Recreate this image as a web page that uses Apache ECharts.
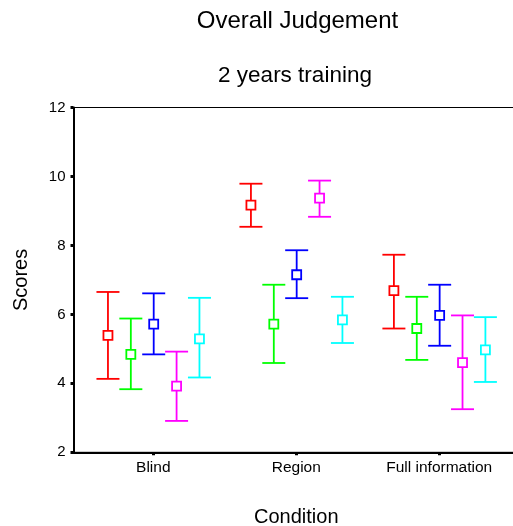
<!DOCTYPE html>
<html>
<head>
<meta charset="utf-8">
<script src="https://cdn.jsdelivr.net/npm/echarts@6/dist/echarts.min.js"></script>
<style>
html,body{margin:0;padding:0;background:#fff;}
#chart{width:513px;height:526px;}
</style>
</head>
<body>
<div id="chart"></div>
<script>
const categories = ['Blind', 'Region', 'Full information'];
const yTicks = [2, 4, 6, 8, 10, 12];

// Group 1 (red)
const redMean = [5.39, 9.17, 6.69];
const redLow  = [4.13, 8.54, 5.59];
const redHigh = [6.65, 9.79, 7.73];
// Group 2 (green)
const greenMean = [4.84, 5.72, 5.59];
const greenLow  = [3.83, 4.59, 4.68];
const greenHigh = [5.88, 6.86, 6.51];
// Group 3 (blue)
const blueMean = [5.72, 7.15, 5.97];
const blueLow  = [4.84, 6.47, 5.09];
const blueHigh = [6.61, 7.86, 6.86];
// Group 4 (magenta)
const magentaMean = [3.92, 9.37, 4.60];
const magentaLow  = [2.91, 8.83, 3.25];
const magentaHigh = [4.92, 9.88, 5.97];
// Group 5 (cyan)
const cyanMean = [5.29, 5.84, 4.97];
const cyanLow  = [4.17, 5.17, 4.04];
const cyanHigh = [6.48, 6.51, 5.92];

const groups = [
  {name: 'Group 1', color: '#ff0000', mean: redMean, low: redLow, high: redHigh},
  {name: 'Group 2', color: '#00ff00', mean: greenMean, low: greenLow, high: greenHigh},
  {name: 'Group 3', color: '#0000ff', mean: blueMean, low: blueLow, high: blueHigh},
  {name: 'Group 4', color: '#ff00ff', mean: magentaMean, low: magentaLow, high: magentaHigh},
  {name: 'Group 5', color: '#00ffff', mean: cyanMean, low: cyanLow, high: cyanHigh}
];

const FONT = '"Liberation Sans", Arial, sans-serif';
const chart = echarts.init(document.getElementById('chart'), null, {renderer: 'canvas'});

function makeSeries(g, k) {
  const data = categories.map((c, i) => [i + 1, g.mean[i], g.low[i], g.high[i]]);
  const off = (k - 2) * 0.16 + 0.003;
  return {
    type: 'custom',
    name: g.name,
    data: data,
    clip: false,
    encode: {x: 0, y: [1, 2, 3]},
    renderItem: function (params, api) {
      const x = api.value(0) + off;
      const pm = api.coord([x, api.value(1)]);
      const pl = api.coord([x, api.value(2)]);
      const ph = api.coord([x, api.value(3)]);
      const capHalf = 11.5;
      const half = 4.5;
      const st = {stroke: g.color, lineWidth: 1.8, fill: null};
      return {
        type: 'group',
        children: [
          {type: 'line', shape: {x1: pm[0], y1: ph[1], x2: pm[0], y2: pm[1] - half}, style: st},
          {type: 'line', shape: {x1: pm[0], y1: pm[1] + half, x2: pm[0], y2: pl[1]}, style: st},
          {type: 'line', shape: {x1: pm[0] - capHalf, y1: ph[1], x2: pm[0] + capHalf, y2: ph[1]}, style: st},
          {type: 'line', shape: {x1: pm[0] - capHalf, y1: pl[1], x2: pm[0] + capHalf, y2: pl[1]}, style: st},
          {type: 'rect', shape: {x: pm[0] - half, y: pm[1] - half, width: half * 2, height: half * 2},
           style: {stroke: g.color, lineWidth: 1.8, fill: '#fff'}}
        ]
      };
    }
  };
}

const option = {
  backgroundColor: '#fff',
  animation: false,
  textStyle: {fontFamily: FONT},
  graphic: [
    {type: 'text', style: {text: 'Overall Judgement', x: 297.5, y: 21, textAlign: 'center', textVerticalAlign: 'middle', font: '24px ' + FONT, fill: '#000'}},
    {type: 'text', style: {text: '2 years training', x: 295, y: 76, textAlign: 'center', textVerticalAlign: 'middle', font: '22.5px ' + FONT, fill: '#000'}}
  ],
  grid: {left: 73.5, top: 107.5, width: 445.5, bottom: 73.7, containLabel: false,
         outerBoundsMode: 'none',
         show: true, borderColor: '#000', borderWidth: 1, backgroundColor: 'transparent'},
  xAxis: {
    type: 'value', min: 0.442, max: 3.558,
    name: 'Condition', nameLocation: 'middle', nameGap: 55,
    nameTextStyle: {fontSize: 20, color: '#000', fontFamily: FONT},
    axisLine: {show: true, onZero: false, lineStyle: {color: '#000', width: 2}},
    axisTick: {show: true, customValues: [1, 2, 3], length: 3, lineStyle: {color: '#000', width: 3}},
    axisLabel: {customValues: [1, 2, 3], formatter: v => categories[Math.round(v) - 1], fontSize: 15.5, color: '#000', margin: 7, fontFamily: FONT},
    splitLine: {show: false}
  },
  yAxis: {
    type: 'value', min: yTicks[0], max: yTicks[yTicks.length - 1], interval: 2,
    name: 'Scores', nameLocation: 'middle', nameGap: 42, nameRotate: 90,
    nameTextStyle: {fontSize: 20, color: '#000', fontFamily: FONT},
    axisLine: {show: true, lineStyle: {color: '#000', width: 2}},
    axisTick: {show: true, length: 3, lineStyle: {color: '#000', width: 3}},
    axisLabel: {fontSize: 15, color: '#000', margin: 8, fontFamily: FONT},
    splitLine: {show: false}
  },
  series: groups.map(makeSeries)
};
chart.setOption(option);
</script>
</body>
</html>
